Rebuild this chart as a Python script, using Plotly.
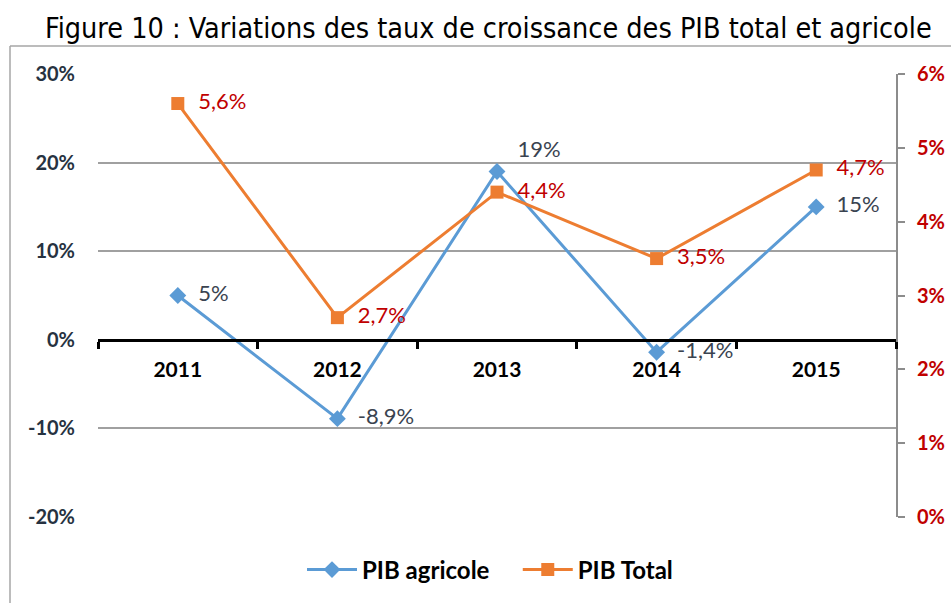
import plotly.graph_objects as go

years = ["2011", "2012", "2013", "2014", "2015"]
pib_agricole = [5.0, -8.9, 19.0, -1.4, 15.0]
pib_agricole_labels = ["5%", "-8,9%", "19%", "-1,4%", "15%"]
pib_total = [5.6, 2.7, 4.4, 3.5, 4.7]
pib_total_labels = ["5,6%", "2,7%", "4,4%", "3,5%", "4,7%"]

left_ticks = [-20, -10, 0, 10, 20, 30]
left_ticktext = ["-20%", "-10%", "0%", "10%", "20%", "30%"]
right_ticks = [0, 1, 2, 3, 4, 5, 6]
right_ticktext = ["0%", "1%", "2%", "3%", "4%", "5%", "6%"]

title_text = "Figure 10 : Variations des taux de croissance des PIB total et agricole"

# page body margin is removed (post_script), figure fills the window
W, H = 951, 603
# target plot area in window pixels: x 98..896, y 74..517
L, R, T, B = 98, W - 896, 74, H - 517
pw, ph = W - L - R, H - T - B

def px_x(x):
    return (x - L) / pw

def px_y(y):
    return (H - B - y) / ph

BLUE = "#5b9bd5"
ORANGE = "#ed7d31"
RED = "#c00000"
DARK = "#263241"
FONT = "Lato"
PAD = "\u00a0\u00a0"
GAP = "\u00a0\u00a0\u00a0\u00a0"

fig = go.Figure()
fig.add_trace(go.Scatter(
    x=years, y=pib_agricole, name="PIB agricole" + GAP,
    mode="lines+markers+text",
    line=dict(color=BLUE, width=3),
    marker=dict(symbol="diamond", size=13, color=BLUE),
    text=[PAD + t for t in pib_agricole_labels],
    textposition=["middle right", "middle right", "top right", "middle right", "middle right"],
    textfont=dict(family=FONT, size=22, color="#3a4350"),
    cliponaxis=False,
))
fig.add_trace(go.Scatter(
    x=years, y=pib_total, name="PIB Total", yaxis="y2",
    mode="lines+markers+text",
    line=dict(color=ORANGE, width=3),
    marker=dict(symbol="square", size=13, color=ORANGE),
    text=[PAD + t for t in pib_total_labels],
    textposition="middle right",
    textfont=dict(family=FONT, size=22, color=RED),
    cliponaxis=False,
))

fig.update_layout(
    width=W, height=H,
    margin=dict(l=L, r=R, t=T, b=B, autoexpand=False),
    paper_bgcolor="white", plot_bgcolor="white",
    showlegend=True,
    legend=dict(orientation="h", x=px_x(490), xanchor="center", y=px_y(570), yanchor="middle",
                font=dict(family=FONT, size=24, color="black", weight="bold"),
                itemwidth=50, traceorder="normal"),
    xaxis=dict(
        type="category", range=[-0.5, 4.5],
        anchor="free", position=0.4,
        showline=True, linecolor="black", linewidth=3,
        ticks="outside", tickson="boundaries", ticklen=7, tickwidth=3, tickcolor="black",
        tickfont=dict(family=FONT, size=21, color="black", weight="bold"),
        ticklabelstandoff=10,
        showgrid=False, zeroline=False,
    ),
    yaxis=dict(
        range=[-20, 30], tickvals=left_ticks, ticktext=left_ticktext,
        showgrid=True, gridcolor="#a0a0a0", gridwidth=1.5,
        zeroline=False, showline=False, ticks="",
        tickfont=dict(family=FONT, size=20, color=DARK, weight="bold"),
        ticklabelstandoff=22,
    ),
    yaxis2=dict(
        range=[0, 6], tickvals=right_ticks, ticktext=right_ticktext,
        overlaying="y", side="right",
        showgrid=False, zeroline=False,
        showline=True, linecolor="#8c8c8c", linewidth=2,
        ticks="outside", ticklen=7, tickcolor="#8c8c8c", tickwidth=1.5,
        tickfont=dict(family=FONT, size=20, color=RED, weight="bold"),
        ticklabelstandoff=8,
    ),
)

# chart frame
fig.add_shape(type="line", xref="paper", yref="paper",
              x0=px_x(10), x1=px_x(960), y0=px_y(46), y1=px_y(46),
              line=dict(color="#a6a6a6", width=1.5))
fig.add_shape(type="line", xref="paper", yref="paper",
              x0=px_x(10), x1=px_x(10), y0=px_y(46), y1=px_y(610),
              line=dict(color="#a6a6a6", width=1.5))

fig.add_annotation(
    text=title_text, xref="paper", yref="paper",
    x=px_x(488), y=px_y(29), xanchor="center", yanchor="middle",
    showarrow=False,
    font=dict(family="DejaVu Sans Condensed, DejaVu Sans", size=28.5, color="black"),
)

fig.write_html(
    "out.html",
    config={"displayModeBar": False},
    post_script="document.body.style.margin='0';document.body.style.overflow='hidden';",
)
